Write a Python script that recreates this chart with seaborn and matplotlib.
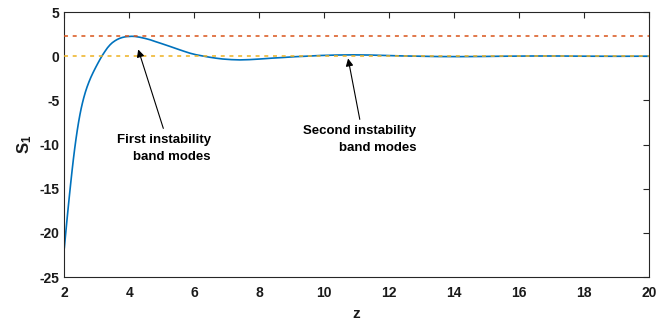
import matplotlib
matplotlib.use("Agg")
import matplotlib.pyplot as plt
import seaborn as sns
import pandas as pd

# S1 as a function of z
z_vals = [2.00, 2.04, 2.08, 2.12, 2.16, 2.20, 2.24, 2.28, 2.32, 2.36,
          2.40, 2.44, 2.48, 2.52, 2.56, 2.60, 2.65, 2.70, 2.76, 2.82,
          2.89, 2.96, 3.03, 3.10, 3.17, 3.25, 3.33, 3.41, 3.48, 3.56,
          3.63, 3.70, 3.78, 3.86, 3.94, 4.08, 4.18, 4.33, 4.50, 4.65,
          4.80, 5.00, 5.25, 5.50, 5.70, 5.87, 6.05, 6.25, 6.48, 6.68,
          6.88, 7.15, 7.41, 7.70, 8.02, 8.40, 8.73, 9.10, 9.46, 9.90,
          10.40, 10.90, 11.40, 11.90, 12.40, 12.90, 13.50, 14.20, 14.90, 15.60,
          16.40, 17.20, 18.00, 19.00, 20.00]
s1_vals = [-21.75, -20.17, -18.64, -17.15, -15.70, -14.30, -12.94, -11.66, -10.47, -9.38,
           -8.38, -7.47, -6.65, -5.92, -5.28, -4.70, -4.06, -3.50, -2.91, -2.38,
           -1.83, -1.32, -0.83, -0.36, 0.08, 0.53, 0.95, 1.29, 1.53, 1.74,
           1.89, 2.01, 2.11, 2.18, 2.22, 2.25, 2.23, 2.14, 2.00, 1.85,
           1.66, 1.42, 1.11, 0.79, 0.54, 0.34, 0.17, 0.03, -0.12, -0.23,
           -0.32, -0.39, -0.42, -0.39, -0.32, -0.22, -0.15, -0.06, 0.00, 0.08,
           0.13, 0.15, 0.13, 0.08, 0.03, 0.00, -0.04, -0.05, -0.03, 0.00,
           0.02, 0.02, 0.00, -0.01, 0.00]

# reference levels
peak_level = 2.25
zero_level = 0.0

x_ticks = [2, 4, 6, 8, 10, 12, 14, 16, 18, 20]
y_ticks = [-25, -20, -15, -10, -5, 0, 5]

# annotations: (label, arrow head, arrow tail, text anchor)
notes = [
    ("First instability\nband modes", (4.277, 0.76), (5.05, -8.17), (6.51, -10.45)),
    ("Second instability\nband modes", (10.74, -0.26), (11.10, -7.15), (12.85, -9.45)),
]

sns.set_theme(style="white")
plt.rcParams["font.family"] = ["Liberation Sans", "DejaVu Sans"]
plt.rcParams["font.weight"] = "bold"
plt.rcParams["mathtext.default"] = "regular"

dark = "#262626"
blue = "#0072BD"
red = "#D95319"
yellow = "#EDB120"

fig = plt.figure(figsize=(6.56, 3.2), dpi=100)
ax = fig.add_axes([0.098, 0.134, 0.891, 0.8285])

df = pd.DataFrame({"z": z_vals, "S1": s1_vals})
sns.lineplot(data=df, x="z", y="S1", ax=ax, color=blue, linewidth=1.2,
             sort=False, estimator=None, zorder=2)
ax.axhline(peak_level, color=red, linewidth=1.1, dashes=(2.6, 3.1), zorder=3)
ax.axhline(zero_level, color=yellow, linewidth=1.1, dashes=(2.6, 3.1), zorder=3)

for label, head, tail, anchor in notes:
    ax.annotate("", xy=head, xytext=tail,
                arrowprops=dict(arrowstyle="-|>", color="black", lw=0.8,
                                mutation_scale=11, shrinkA=0, shrinkB=0))
    ax.text(anchor[0], anchor[1], label, ha="right", va="center",
            multialignment="right", fontsize=9.5, fontweight="bold",
            color="black", linespacing=1.6)

ax.set_xlim(2, 20)
ax.set_ylim(-25, 5)
ax.set_xticks(x_ticks)
ax.set_yticks(y_ticks)
ax.set_xticklabels([str(t) for t in x_ticks])
ax.set_yticklabels([str(t) for t in y_ticks])

for sp in ax.spines.values():
    sp.set_visible(True)
    sp.set_color(dark)
    sp.set_linewidth(0.8)

ax.tick_params(axis="both", which="both", direction="in", length=4.3,
               width=0.8, color=dark, top=True, right=True,
               labelsize=10, labelcolor="#1a1a1a")
ax.tick_params(axis="x", pad=6.5)
ax.tick_params(axis="y", pad=3.5)
for lab in ax.get_xticklabels() + ax.get_yticklabels():
    lab.set_fontweight("bold")

ax.set_xlabel("z", fontsize=11, fontweight="bold", color="#1a1a1a", labelpad=5)
ax.set_ylabel("S$_1$", fontsize=12, fontweight="bold", color="#1a1a1a", labelpad=4)

fig.savefig("out.png", dpi=100)
